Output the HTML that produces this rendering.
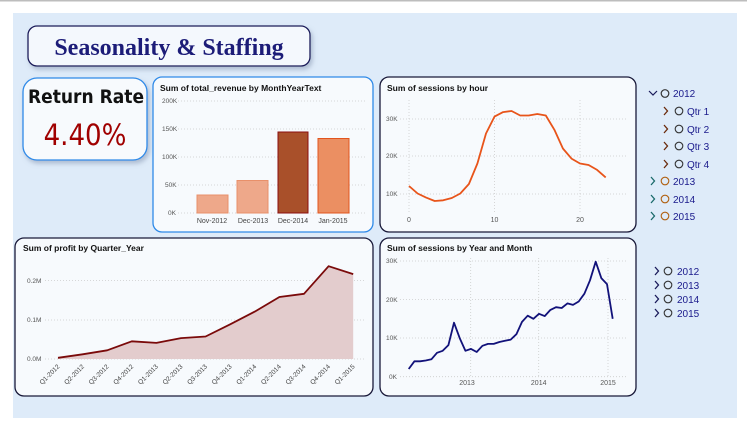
<!DOCTYPE html>
<html><head><meta charset="utf-8"><style>
body{margin:0;width:747px;height:433px;background:#fff;overflow:hidden;font-family:"Liberation Sans",sans-serif;}
svg{display:block}
</style></head><body>
<svg width="747" height="433" xmlns="http://www.w3.org/2000/svg" font-family="Liberation Sans, sans-serif">
<defs>
<filter id="sh" x="-10%" y="-10%" width="130%" height="140%"><feDropShadow dx="2" dy="3" stdDeviation="2.5" flood-color="#7a8aa8" flood-opacity="0.5"/></filter>
</defs>
<rect x="0" y="0" width="747" height="1.5" fill="#bdbdbd"/>
<rect x="13" y="13" width="724" height="405" fill="#deebf9"/>
<!-- title -->
<rect x="28" y="26" width="282" height="40" rx="9" fill="#f4f8fd" stroke="#1a1a5a" stroke-width="1.3" filter="url(#sh)"/>
<text x="169" y="55" text-anchor="middle" font-family="Liberation Serif, serif" font-weight="bold" font-size="24" fill="#1c1c78">Seasonality &amp; Staffing</text>
<!-- return rate -->
<rect x="23" y="78" width="124" height="82" rx="14" fill="#f7fafd" stroke="#2f8ae8" stroke-width="1.3" filter="url(#sh)"/>
<text x="86" y="103" text-anchor="middle" font-family="DejaVu Sans Condensed, DejaVu Sans, sans-serif" font-weight="bold" font-size="19" fill="#111">Return Rate</text>
<text x="85" y="145" text-anchor="middle" font-family="DejaVu Sans Condensed, DejaVu Sans, sans-serif" font-size="29" fill="#a00000">4.40%</text>
<!-- revenue chart -->
<rect x="153" y="77" width="220" height="155" rx="9" fill="#f7fafd" stroke="#2f8ae8" stroke-width="1.3"/>
<text x="160" y="91" font-size="8.5" font-weight="bold" fill="#111">Sum of total_revenue by MonthYearText</text>
<g stroke="#ccc" stroke-dasharray="1,2" stroke-width="0.8">
<line x1="178" y1="101" x2="366" y2="101"/><line x1="178" y1="129" x2="366" y2="129"/><line x1="178" y1="157" x2="366" y2="157"/><line x1="178" y1="185" x2="366" y2="185"/><line x1="178" y1="213" x2="366" y2="213"/></g>
<g font-size="6.5" fill="#555"><text x="162" y="103">200K</text><text x="162" y="131">150K</text><text x="162" y="159">100K</text><text x="165" y="187">50K</text><text x="168" y="215">0K</text></g>
<rect x="197" y="195" width="31" height="18" fill="#eea88a" stroke="#e8906a"/>
<rect x="237" y="180.5" width="31" height="32.5" fill="#eea88a" stroke="#e8906a"/>
<rect x="278" y="132" width="30" height="81" fill="#a9502a" stroke="#8a0e0e"/>
<rect x="318" y="138.5" width="31" height="74.5" fill="#eb8f62" stroke="#e2551e"/>
<g font-size="7" fill="#444" text-anchor="middle"><text x="212" y="223">Nov-2012</text><text x="253" y="223">Dec-2013</text><text x="293" y="223">Dec-2014</text><text x="333" y="223">Jan-2015</text></g>
<!-- hour chart -->
<rect x="380" y="77" width="256" height="155" rx="9" fill="#f7fafd" stroke="#1a1a3a" stroke-width="1.3"/>
<text x="387" y="91" font-size="8.5" font-weight="bold" fill="#111">Sum of sessions by hour</text>
<g stroke="#ccc" stroke-dasharray="1,2" stroke-width="0.8">
<line x1="400" y1="119" x2="628" y2="119"/><line x1="400" y1="156" x2="628" y2="156"/><line x1="400" y1="194" x2="628" y2="194"/>
<line x1="409" y1="100" x2="409" y2="212"/><line x1="494.5" y1="100" x2="494.5" y2="212"/><line x1="580" y1="100" x2="580" y2="212"/></g>
<g font-size="6.5" fill="#555"><text x="386" y="121">30K</text><text x="386" y="158">20K</text><text x="386" y="196">10K</text></g>
<g font-size="7" fill="#555" text-anchor="middle"><text x="409" y="222">0</text><text x="494.5" y="222">10</text><text x="580" y="222">20</text></g>
<polyline fill="none" stroke="#e8541a" stroke-width="1.8" stroke-linejoin="round" points="409,186 417.6,193.5 426.1,197.6 434.7,201 443.2,200.3 451.8,198 460.3,193.5 468.9,184 477.4,163.5 486,133.5 494.5,116.6 503.1,112.1 511.6,111 520.2,115.5 528.7,115.5 537.3,114 545.8,115.5 554.4,129.8 562.9,148.5 571.5,158.6 580,163.5 588.6,165 597.1,169.9 605.7,177.4"/>
<!-- profit chart -->
<rect x="15" y="238" width="358" height="158" rx="9" fill="#f7fafd" stroke="#1a1a3a" stroke-width="1.3"/>
<text x="23" y="251" font-size="8.5" font-weight="bold" fill="#111">Sum of profit by Quarter_Year</text>
<g stroke="#ccc" stroke-dasharray="1,2" stroke-width="0.8">
<line x1="45" y1="280.5" x2="365" y2="280.5"/><line x1="45" y1="320" x2="365" y2="320"/><line x1="45" y1="359" x2="365" y2="359"/></g>
<g font-size="6.5" fill="#555"><text x="27" y="283">0.2M</text><text x="27" y="322">0.1M</text><text x="27" y="361">0.0M</text></g>
<polygon fill="#e3cccd" points="58,359 58,357.8 82.6,354.3 107.2,350.3 131.8,341.3 156.4,342.9 181,338.1 205.6,336.5 230.2,324.3 254.8,311.6 279.4,297 304,293.8 328.6,266.2 353.2,274.1 353.2,359"/>
<polyline fill="none" stroke="#7a0a0a" stroke-width="1.8" stroke-linejoin="round" points="58,357.8 82.6,354.3 107.2,350.3 131.8,341.3 156.4,342.9 181,338.1 205.6,336.5 230.2,324.3 254.8,311.6 279.4,297 304,293.8 328.6,266.2 353.2,274.1"/>
<g font-size="6.5" fill="#444">
<text transform="translate(60,367) rotate(-45)" text-anchor="end">Q1-2012</text>
<text transform="translate(84.6,367) rotate(-45)" text-anchor="end">Q2-2012</text>
<text transform="translate(109.2,367) rotate(-45)" text-anchor="end">Q3-2012</text>
<text transform="translate(133.8,367) rotate(-45)" text-anchor="end">Q4-2012</text>
<text transform="translate(158.4,367) rotate(-45)" text-anchor="end">Q1-2013</text>
<text transform="translate(183,367) rotate(-45)" text-anchor="end">Q2-2013</text>
<text transform="translate(207.6,367) rotate(-45)" text-anchor="end">Q3-2013</text>
<text transform="translate(232.2,367) rotate(-45)" text-anchor="end">Q4-2013</text>
<text transform="translate(256.8,367) rotate(-45)" text-anchor="end">Q1-2014</text>
<text transform="translate(281.4,367) rotate(-45)" text-anchor="end">Q2-2014</text>
<text transform="translate(306,367) rotate(-45)" text-anchor="end">Q3-2014</text>
<text transform="translate(330.6,367) rotate(-45)" text-anchor="end">Q4-2014</text>
<text transform="translate(355.2,367) rotate(-45)" text-anchor="end">Q1-2015</text>
</g>
<!-- sessions by year month -->
<rect x="380" y="238" width="256" height="158" rx="9" fill="#f7fafd" stroke="#1a1a3a" stroke-width="1.3"/>
<text x="387" y="251" font-size="8.5" font-weight="bold" fill="#111">Sum of sessions by Year and Month</text>
<g stroke="#ccc" stroke-dasharray="1,2" stroke-width="0.8">
<line x1="400" y1="261" x2="628" y2="261"/><line x1="400" y1="299.5" x2="628" y2="299.5"/><line x1="400" y1="338" x2="628" y2="338"/><line x1="400" y1="376.7" x2="628" y2="376.7"/>
<line x1="470.7" y1="258" x2="470.7" y2="376"/><line x1="538.7" y1="258" x2="538.7" y2="376"/><line x1="608" y1="258" x2="608" y2="376"/></g>
<g font-size="6.5" fill="#555"><text x="386" y="263">30K</text><text x="386" y="302">20K</text><text x="386" y="340">10K</text><text x="389" y="379">0K</text></g>
<g font-size="7" fill="#555" text-anchor="middle"><text x="467" y="385">2013</text><text x="538.7" y="385">2014</text><text x="608" y="385">2015</text></g>
<polyline fill="none" stroke="#12127a" stroke-width="1.8" stroke-linejoin="round" points="408.7,369 414.4,361.3 420,361.3 425.7,360.5 431.4,359.3 437,352.8 442.7,350.8 448.4,345.1 454,322.7 459.7,338.1 465.4,350.8 471,348.9 476.7,352 482.4,345.8 488,343.9 493.7,343.9 499.4,342 505,340.8 510.7,339.6 516.4,334.2 522,321.9 527.7,315.7 533.4,318.8 539,313.8 544.7,316.1 550.4,309.9 556,307.2 561.7,308 567.4,303.4 573,304.9 578.7,301.5 584.4,293.7 590,280.3 595.7,261.7 601.4,278.3 607,284.1 612.7,318.8"/>
<!-- slicers -->
<g font-size="10" fill="#1a1a8c">
<g fill="none" stroke-width="1.2">
<polyline points="649,91 653,95 657,91" stroke="#1a1a5a"/>
<circle cx="665" cy="93.5" r="3.8" stroke="#333"/>
</g>
<text x="673" y="97">2012</text>
<g fill="none" stroke="#6a2a0a" stroke-width="1.3">
<polyline points="664,107 667.5,111 664,115"/><polyline points="664,125 667.5,129 664,133"/><polyline points="664,142 667.5,146 664,150"/><polyline points="664,160 667.5,164 664,168"/>
</g>
<g fill="none" stroke="#333" stroke-width="1.1"><circle cx="679" cy="111" r="3.8"/><circle cx="679" cy="129" r="3.8"/><circle cx="679" cy="146" r="3.8"/><circle cx="679" cy="164" r="3.8"/></g>
<text x="687" y="115">Qtr 1</text><text x="687" y="133">Qtr 2</text><text x="687" y="150">Qtr 3</text><text x="687" y="168">Qtr 4</text>
<g fill="none" stroke="#1a6a6a" stroke-width="1.3">
<polyline points="651,177 654.5,181 651,185"/><polyline points="651,195 654.5,199 651,203"/><polyline points="651,212 654.5,216 651,220"/>
</g>
<g fill="none" stroke="#b06010" stroke-width="1.1"><circle cx="665" cy="181" r="3.8"/><circle cx="665" cy="199" r="3.8"/><circle cx="665" cy="216" r="3.8"/></g>
<text x="673" y="185">2013</text><text x="673" y="203">2014</text><text x="673" y="220">2015</text>
<g fill="none" stroke="#1a1a5a" stroke-width="1.3">
<polyline points="655,267 658.5,271 655,275"/><polyline points="655,281 658.5,285 655,289"/><polyline points="655,295 658.5,299 655,303"/><polyline points="655,309 658.5,313 655,317"/>
</g>
<g fill="none" stroke="#333" stroke-width="1.1"><circle cx="668" cy="271" r="3.8"/><circle cx="668" cy="285" r="3.8"/><circle cx="668" cy="299" r="3.8"/><circle cx="668" cy="313" r="3.8"/></g>
<text x="677" y="275">2012</text><text x="677" y="289">2013</text><text x="677" y="303">2014</text><text x="677" y="317">2015</text>
</g>
</svg>
</body></html>
